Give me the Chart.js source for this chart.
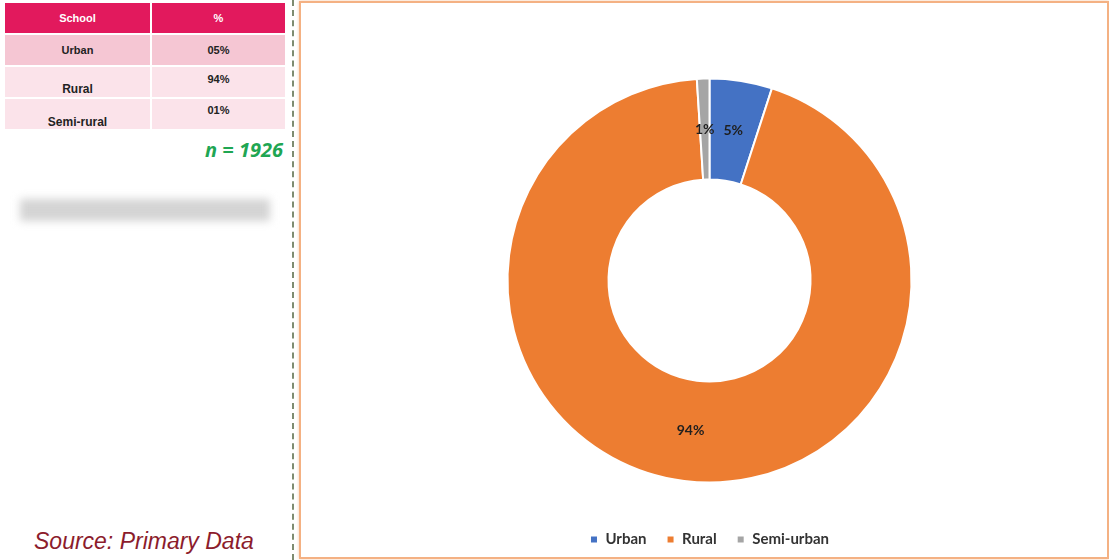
<!DOCTYPE html>
<html>
<head>
<meta charset="utf-8">
<script src="https://cdn.jsdelivr.net/npm/chart.js@4.4.0/dist/chart.umd.min.js"></script>
<style>
  html, body { margin: 0; padding: 0; background: #fff; }
  body { width: 1109px; height: 560px; position: relative; overflow: hidden; font-family: "Liberation Sans", Arial, sans-serif; }
  .side { position: absolute; left: 0; top: 0; width: 290px; height: 560px; }
  .tbl { position: absolute; left: 5px; top: 3px; width: 280px; }
  .row { display: flex; height: 30px; margin-bottom: 2px; font-weight: bold; font-size: 11px; color: #222; }
  .row div { flex: none; position: relative; }
  .row .c1 { width: 145px; margin-right: 2px; }
  .row .c2 { width: 133px; }
  .hdr div { background: #E2195D; color: #fff; text-align: center; line-height: 30px; }
  .r1 div { background: #F5C6D3; text-align: center; line-height: 30px; }
  .r2 div, .r3 div { background: #FBE3EA; }
  .row span { position: absolute; left: 0; right: 0; text-align: center; }
  .n { position: absolute; right: 7px; top: 136px; color: #1FA653; font-style: italic; font-weight: bold; font-size: 20px; font-family: "Open Sans", sans-serif; }
  .blurbar { position: absolute; left: 20px; top: 199px; width: 250px; height: 22px; background: #D4D4D4; filter: blur(4px); }
  .src { position: absolute; left: 34px; top: 528px; color: #8C1C2C; font-style: italic; font-size: 23px; }
  .sep { position: absolute; left: 292px; top: 0; height: 560px; border-left: 2px dashed #7E8C70; }
  .box { position: absolute; left: 299px; top: 1px; width: 806px; height: 554px; border: 2px solid #F4B183; box-shadow: 0 0 3px #F8CBA8; }
  .box canvas { display: block; }
</style>
</head>
<body>
<div class="side">
  <div class="tbl">
    <div class="row hdr"><div class="c1">School</div><div class="c2">%</div></div>
    <div class="row r1"><div class="c1">Urban</div><div class="c2">05%</div></div>
    <div class="row r2"><div class="c1"><span style="top:15px;font-size:12px">Rural</span></div><div class="c2"><span style="top:6px">94%</span></div></div>
    <div class="row r3"><div class="c1"><span style="top:16px;font-size:12px">Semi-rural</span></div><div class="c2"><span style="top:5px">01%</span></div></div>
  </div>
  <div class="n">n = 1926</div>
  <div class="blurbar"></div>
  <div class="src">Source: Primary Data</div>
</div>
<div class="sep"></div>
<div class="box"><canvas id="chart" width="806" height="554"></canvas></div>

<script>
  // school location shares
  const categories = ['Urban', 'Rural', 'Semi-urban'];
  const shares = [5, 94, 1];
  const colors = ['#4472C4', '#ED7D31', '#A5A5A5'];

  // writes "n%" at the middle of each ring segment
  const sliceLabels = {
    id: 'sliceLabels',
    afterDatasetsDraw(chart) {
      const ctx = chart.ctx;
      const meta = chart.getDatasetMeta(0);
      ctx.save();
      ctx.font = 'bold 14px Lato, "Open Sans", sans-serif';
      ctx.fillStyle = '#1F1F1F';
      ctx.textAlign = 'center';
      ctx.textBaseline = 'middle';
      meta.data.forEach((arc, i) => {
        const p = arc.getCenterPoint();
        ctx.fillText(shares[i] + '%', p.x, p.y);
      });
      ctx.restore();
    }
  };

  new Chart(document.getElementById('chart'), {
    type: 'doughnut',
    data: {
      labels: categories,
      datasets: [{
        data: shares,
        backgroundColor: colors,
        borderColor: '#fff',
        borderWidth: 2,
        radius: 202,
        cutout: '50%'
      }]
    },
    options: {
      responsive: false,
      animation: false,
      layout: { padding: { left: 11, top: 46, right: 0, bottom: 0 } },
      plugins: {
        tooltip: { enabled: false },
        legend: {
          position: 'bottom',
          labels: {
            boxWidth: 8,
            boxHeight: 8,
            padding: 20,
            color: '#333333',
            font: { family: 'Lato, "Open Sans", sans-serif', size: 15, weight: 'bold' }
          }
        }
      }
    },
    plugins: [sliceLabels]
  });
</script>
</body>
</html>
